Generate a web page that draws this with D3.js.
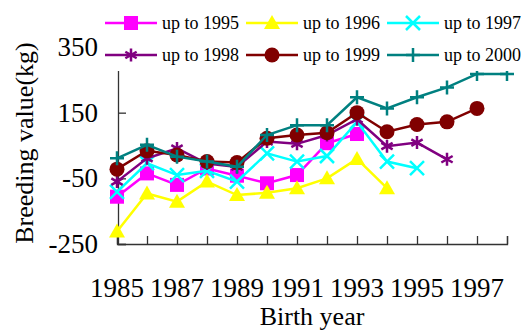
<!DOCTYPE html>
<html>
<head>
<meta charset="utf-8">
<script src="https://cdn.jsdelivr.net/npm/d3@7"></script>
<style>
  body { margin: 0; background: #fff; }
  text { font-family: "Liberation Serif", "Times New Roman", serif; fill: #000; }
</style>
</head>
<body>
<div id="chart"></div>
<script>
// data
const years = [1985,1986,1987,1988,1989,1990,1991,1992,1993,1994,1995,1996,1997,1998];
const yTicks = [-250,-50,150,350];
const xTickLabels = [1985,1987,1989,1991,1993,1995,1997];

const upTo1995 = [-106,-35,-70,-20,-42,-65,-40,57,85];
const upTo1996 = [-212,-96,-121,-60,-101,-94,-80,-50,9,-80];
const upTo1997 = [-91,-4,-40,-27,-60,26,1,18,122,1,-19];
const upTo1998 = [-60,11,41,-5,-15,62,55,82,130,48,59,8];
const upTo1999 = [-22,34,21,1,-2,72,82,89,150,92,114,122,163];
const upTo2000 = [11,52,16,1,-15,82,112,112,197,163,197,227,268,268];

const series = [
  {name:"up to 1995", values:upTo1995, color:"#FF00FF", shape:"square"},
  {name:"up to 1996", values:upTo1996, color:"#FFFF00", shape:"triangle"},
  {name:"up to 1997", values:upTo1997, color:"#00FFFF", shape:"x"},
  {name:"up to 1998", values:upTo1998, color:"#800080", shape:"asterisk"},
  {name:"up to 1999", values:upTo1999, color:"#800000", shape:"circle"},
  {name:"up to 2000", values:upTo2000, color:"#008080", shape:"plus"}
];

const width = 531, height = 330;

const svg = d3.select("#chart").append("svg")
  .attr("width", width)
  .attr("height", height);

const x = d3.scaleLinear().domain([1985,1998]).range([117,507]);
const y = d3.scaleLinear().domain([-250,350]).range([244,47]);

// axes
const xAxis = svg.append("g").attr("transform","translate(0,244)")
  .call(d3.axisBottom(x).tickValues(years).tickSize(-8).tickFormat(""));
const yAxis = svg.append("g").attr("transform","translate(118,0)")
  .call(d3.axisLeft(y).tickValues(yTicks).tickSize(-8).tickFormat(""));
svg.selectAll(".domain").attr("stroke","#333").attr("stroke-width",1.3);
svg.selectAll(".tick line").attr("stroke","#333").attr("stroke-width",1.3);

svg.append("g").selectAll("text")
  .data(xTickLabels)
  .join("text")
  .attr("x", d => x(d))
  .attr("y", 297)
  .attr("text-anchor","middle")
  .attr("font-size", 27)
  .text(d => d);

svg.append("g").selectAll("text")
  .data(yTicks)
  .join("text")
  .attr("x", 98)
  .attr("y", d => y(d) + 9)
  .attr("text-anchor","end")
  .attr("font-size", 27)
  .text(d => d);

svg.append("text")
  .attr("x", 312).attr("y", 325)
  .attr("text-anchor","middle")
  .attr("font-size", 26)
  .text("Birth year");

svg.append("text")
  .attr("transform","translate(33,143) rotate(-90)")
  .attr("text-anchor","middle")
  .attr("font-size", 26)
  .text("Breeding value(kg)");

// marker drawing
function marker(g, shape, color) {
  const s = 7;
  if (shape === "square") {
    g.append("rect").attr("x",-s).attr("y",-s).attr("width",2*s).attr("height",2*s).attr("fill",color);
  } else if (shape === "triangle") {
    g.append("path").attr("d", `M0,${-s-1}L${s+1},${s-1}L${-s-1},${s-1}Z`).attr("fill",color);
  } else if (shape === "circle") {
    g.append("circle").attr("r", s+0.5).attr("fill",color);
  } else if (shape === "x") {
    g.append("path").attr("d", `M${-s},${-s}L${s},${s}M${-s},${s}L${s},${-s}`)
      .attr("stroke",color).attr("stroke-width",2.5);
  } else if (shape === "asterisk") {
    const a = 6.5;
    g.append("path").attr("d", `M0,${-a}V${a}M${-a*0.87},${-a/2}L${a*0.87},${a/2}M${-a*0.87},${a/2}L${a*0.87},${-a/2}`)
      .attr("stroke",color).attr("stroke-width",2.5);
  } else if (shape === "plus") {
    g.append("path").attr("d", `M0,${-s}V${s}M${-s},0H${s}`)
      .attr("stroke",color).attr("stroke-width",2.5);
  }
}

const line = d3.line()
  .x((d,i) => x(years[i]))
  .y(d => y(d));

series.forEach(sr => {
  const g = svg.append("g");
  g.append("path")
    .attr("d", line(sr.values))
    .attr("fill","none")
    .attr("stroke", sr.color)
    .attr("stroke-width", 2.5);
  sr.values.forEach((v,i) => {
    const m = g.append("g").attr("transform", `translate(${x(years[i])},${y(v)})`);
    marker(m, sr.shape, sr.color);
  });
});

// legend
const legend = svg.append("g");
legend.append("rect")
  .attr("x",100).attr("y",4).attr("width",428).attr("height",67)
  .attr("fill","#fff");
const colX = [105,246,387];
const rowY = [23,55];
series.forEach((sr,i) => {
  const lx = colX[i % 3], ly = rowY[Math.floor(i / 3)];
  const g = legend.append("g");
  g.append("line")
    .attr("x1",lx).attr("x2",lx+52).attr("y1",ly).attr("y2",ly)
    .attr("stroke",sr.color).attr("stroke-width",2.5);
  marker(g.append("g").attr("transform",`translate(${lx+26},${ly})`), sr.shape, sr.color);
  g.append("text")
    .attr("x", lx+57).attr("y", ly+6)
    .attr("font-size", 18)
    .text(sr.name);
});
</script>
</body>
</html>
